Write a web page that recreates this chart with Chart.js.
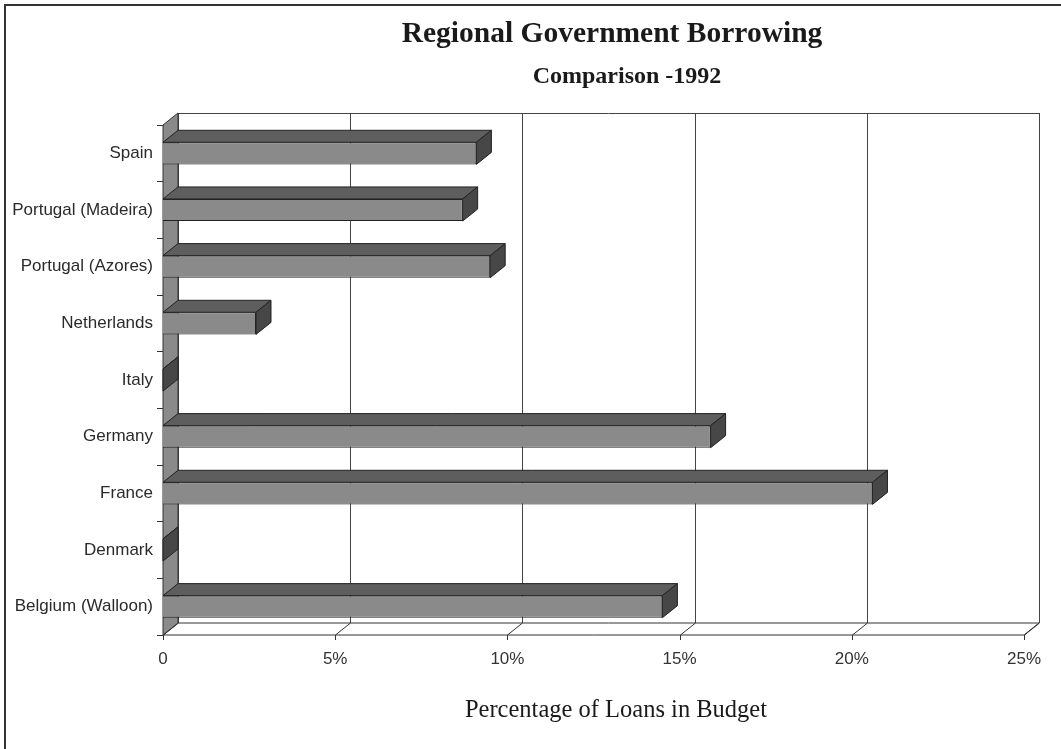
<!DOCTYPE html>
<html>
<head>
<meta charset="utf-8">
<script src="https://cdn.jsdelivr.net/npm/chart.js@4/dist/chart.umd.min.js"></script>
<style>
  html, body { margin: 0; padding: 0; background: #fff; }
  #wrap { width: 1061px; height: 749px; }
</style>
</head>
<body>
<div id="wrap"><canvas id="chart" width="1061" height="749"></canvas></div>
<script>
var countries = ['Spain', 'Portugal (Madeira)', 'Portugal (Azores)', 'Netherlands', 'Italy',
                 'Germany', 'France', 'Denmark', 'Belgium (Walloon)'];
var loanShare = [9.1, 8.7, 9.5, 2.7, 0, 15.9, 20.6, 0, 14.5];
var xTicks = [0, 5, 10, 15, 20, 25];

var chartTitle = 'Regional Government Borrowing';
var chartSubtitle = 'Comparison -1992';
var xAxisTitle = 'Percentage of Loans in Budget';

// depth of the fake 3d box
var depthX = 15;
var depthY = -12;
var serif = '"Liberation Serif", "Times New Roman", serif';
var sans = '"Liberation Sans", Arial, sans-serif';

function poly(ctx, pts, fill, stroke) {
    ctx.beginPath();
    ctx.moveTo(pts[0][0], pts[0][1]);
    for (var i = 1; i < pts.length; i++) ctx.lineTo(pts[i][0], pts[i][1]);
    ctx.closePath();
    if (fill) { ctx.fillStyle = fill; ctx.fill(); }
    if (stroke) { ctx.strokeStyle = stroke; ctx.lineWidth = 1; ctx.stroke(); }
}

var boxPlugin = {
    id: 'box3d',
    beforeDatasetsDraw: function(chart) {
        var ctx = chart.ctx;
        var a = chart.chartArea;
        var xs = chart.scales.x;
        ctx.save();
        // back wall grid lines
        ctx.strokeStyle = '#444';
        ctx.lineWidth = 1;
        for (var i = 0; i < xTicks.length; i++) {
            var px = Math.round(xs.getPixelForValue(xTicks[i])) + 0.5;
            ctx.beginPath();
            ctx.moveTo(px + depthX, a.top + depthY);
            ctx.lineTo(px + depthX, a.bottom + depthY);
            ctx.stroke();
        }
        // back wall top edge
        ctx.beginPath();
        ctx.moveTo(a.left + depthX, a.top + depthY + 0.5);
        ctx.lineTo(a.right + depthX, a.top + depthY + 0.5);
        ctx.stroke();
        // floor
        poly(ctx, [[a.left, a.bottom], [a.left + depthX, a.bottom + depthY],
                   [a.right + depthX, a.bottom + depthY], [a.right, a.bottom]], '#fff', '#333');
        for (var j = 0; j < xTicks.length; j++) {
            var fx = Math.round(xs.getPixelForValue(xTicks[j])) + 0.5;
            ctx.beginPath();
            ctx.moveTo(fx, a.bottom + 5);
            ctx.lineTo(fx, a.bottom);
            ctx.lineTo(fx + depthX, a.bottom + depthY);
            ctx.stroke();
        }
        // left wall
        poly(ctx, [[a.left, a.top], [a.left + depthX, a.top + depthY],
                   [a.left + depthX, a.bottom + depthY], [a.left, a.bottom]], '#8a8a8a', '#333');
        ctx.restore();
    },
    afterDatasetsDraw: function(chart) {
        var ctx = chart.ctx;
        var bars = chart.getDatasetMeta(0).data;
        ctx.save();
        bars.forEach(function(b) {
            var p = b.getProps(['x', 'y', 'base', 'height'], true);
            var t = p.y - p.height / 2, btm = p.y + p.height / 2;
            // top face
            poly(ctx, [[p.base, t], [p.base + depthX, t + depthY],
                       [p.x + depthX, t + depthY], [p.x, t]], '#5e5e5e', '#222');
            // end face
            poly(ctx, [[p.x, t], [p.x + depthX, t + depthY],
                       [p.x + depthX, btm + depthY], [p.x, btm]], '#474747', '#222');
        });
        ctx.restore();
    },
    afterDraw: function(chart) {
        var ctx = chart.ctx;
        ctx.save();
        // page frame
        ctx.strokeStyle = '#333';
        ctx.lineWidth = 2;
        ctx.beginPath();
        ctx.moveTo(5, 749);
        ctx.lineTo(5, 5);
        ctx.lineTo(1061, 5);
        ctx.stroke();
        // titles (placed like the scanned figure, a bit right of the plot centre)
        ctx.fillStyle = '#1a1a1a';
        ctx.textAlign = 'center';
        ctx.textBaseline = 'alphabetic';
        ctx.font = 'bold 29.5px ' + serif;
        ctx.fillText(chartTitle, 612, 42);
        ctx.font = 'bold 24px ' + serif;
        ctx.fillText(chartSubtitle, 627, 83);
        ctx.font = '24.5px ' + serif;
        ctx.fillText(xAxisTitle, 616, 717);
        ctx.restore();
    }
};

var ctx = document.getElementById('chart').getContext('2d');
var myChart = new Chart(ctx, {
    type: 'bar',
    data: {
        labels: countries,
        datasets: [{
            data: loanShare,
            backgroundColor: '#8a8a8a',
            borderColor: '#222',
            borderWidth: 1,
            barPercentage: 0.39,
            categoryPercentage: 1
        }]
    },
    options: {
        indexAxis: 'y',
        responsive: false,
        animation: false,
        layout: { padding: { top: 125, right: 37, bottom: 0, left: 0 } },
        plugins: {
            legend: { display: false },
            tooltip: { enabled: false }
        },
        scales: {
            x: {
                min: 0,
                max: 25,
                afterBuildTicks: function(scale) {
                    scale.ticks = xTicks.map(function(v) { return { value: v }; });
                },
                afterFit: function(scale) { scale.height = 114; },
                grid: { display: false, drawTicks: false },
                border: { display: false },
                ticks: {
                    padding: 14,
                    color: '#333',
                    font: { family: sans, size: 17 },
                    callback: function(v) { return v === 0 ? '0' : v + '%'; }
                }
            },
            y: {
                afterFit: function(scale) { scale.width = 163; },
                grid: { drawOnChartArea: false, drawTicks: true, tickLength: 6, color: '#333' },
                border: { display: true, color: '#333' },
                ticks: {
                    padding: 4,
                    color: '#2a2a2a',
                    font: { family: sans, size: 17 }
                }
            }
        }
    },
    plugins: [boxPlugin]
});
</script>
</body>
</html>
